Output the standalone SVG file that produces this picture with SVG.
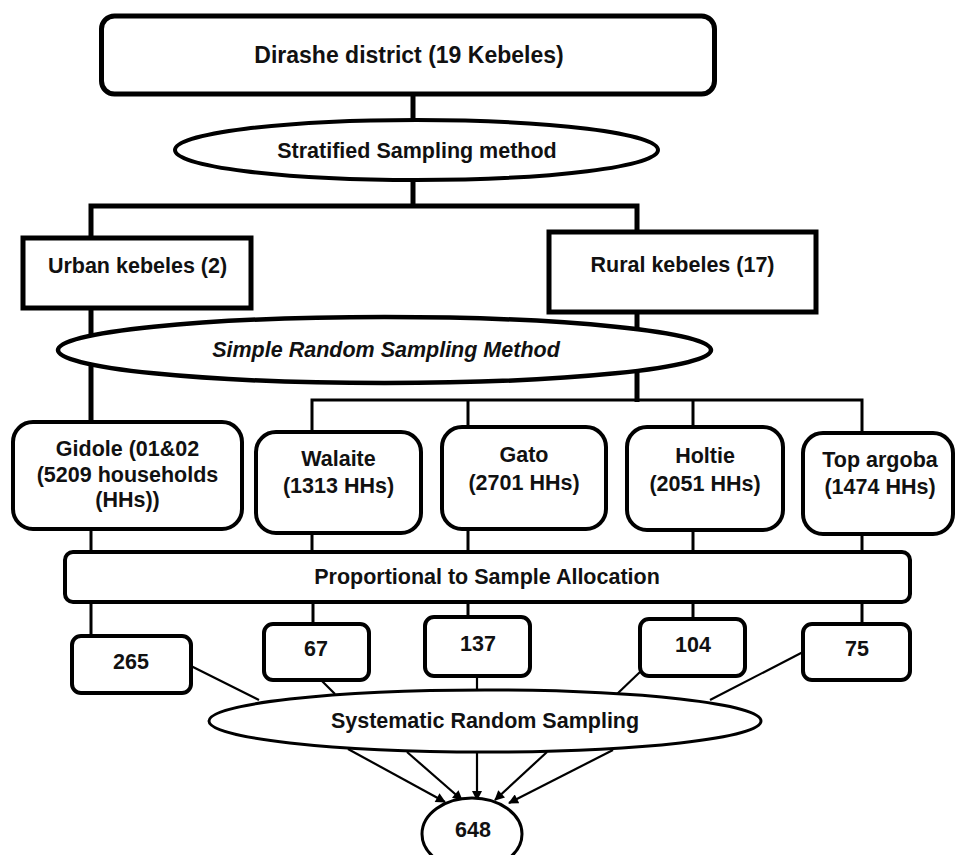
<svg xmlns="http://www.w3.org/2000/svg" width="956" height="855" viewBox="0 0 956 855">
<style>
text{font-family:"Liberation Sans",Arial,sans-serif;font-weight:bold;font-size:21.5px;fill:#111;text-anchor:middle}
.n{fill:#fff;stroke:#000;stroke-width:4}
.thick{stroke:#000;stroke-width:5;fill:none}
.mid{stroke:#000;stroke-width:3;fill:none}
.thin{stroke:#000;stroke-width:2.2;fill:none}
</style>
<defs>
<marker id="ah" viewBox="0 0 10 10" refX="9" refY="5" markerWidth="11" markerHeight="10" orient="auto" markerUnits="userSpaceOnUse">
<path d="M0,0 L10,5 L0,10 z" fill="#000"/>
</marker>
</defs>
<rect width="956" height="855" fill="#fff"/>
<g id="connectors">
<line class="thick" x1="413" y1="94" x2="413" y2="120"/>
<line class="thick" x1="413" y1="180" x2="413" y2="206"/>
<polyline class="thick" points="91,238 91,206 637,206 637,232"/>
<line class="thick" x1="91" y1="308" x2="91" y2="422"/>
<line class="thick" x1="637" y1="312" x2="637" y2="402"/>
<polyline class="mid" points="312,432 312,400 862,400 862,433"/>
<line class="mid" x1="468" y1="400" x2="468" y2="427"/>
<line class="mid" x1="693" y1="400" x2="693" y2="427"/>
<line class="mid" x1="91" y1="529" x2="91" y2="552"/>
<line class="mid" x1="312" y1="533" x2="312" y2="552"/>
<line class="mid" x1="468" y1="529" x2="468" y2="552"/>
<line class="mid" x1="693" y1="530" x2="693" y2="552"/>
<line class="mid" x1="862" y1="534" x2="862" y2="552"/>
<line class="mid" x1="91" y1="602" x2="91" y2="636"/>
<line class="mid" x1="313" y1="602" x2="313" y2="624"/>
<line class="mid" x1="468" y1="602" x2="468" y2="617"/>
<line class="mid" x1="693" y1="602" x2="693" y2="619"/>
<line class="mid" x1="862" y1="602" x2="862" y2="624"/>
<line class="thin" x1="191" y1="666" x2="259" y2="700"/>
<line class="thin" x1="321" y1="680" x2="335" y2="694"/>
<line class="thin" x1="477" y1="676" x2="477" y2="690"/>
<line class="thin" x1="640" y1="672" x2="617" y2="694"/>
<line class="thin" x1="803" y1="652" x2="710" y2="700"/>
<line class="thin" x1="348" y1="749" x2="445" y2="802" marker-end="url(#ah)"/>
<line class="thin" x1="407" y1="752" x2="462" y2="800" marker-end="url(#ah)"/>
<line class="thin" x1="477" y1="752" x2="477" y2="800" marker-end="url(#ah)"/>
<line class="thin" x1="547" y1="752" x2="495" y2="800" marker-end="url(#ah)"/>
<line class="thin" x1="613" y1="750" x2="509" y2="803" marker-end="url(#ah)"/>
</g>
<g id="district">
<rect x="101.5" y="16" width="613" height="78" rx="13" class="n" style="stroke-width:5"/>
<text x="409" y="63" style="font-size:23px">Dirashe district (19 Kebeles)</text>
</g>
<g id="stratified">
<ellipse cx="416.5" cy="150" rx="241.5" ry="30" class="n"/>
<text x="417" y="158">Stratified Sampling method</text>
</g>
<g id="urban">
<rect x="23" y="238" width="228" height="70" class="n" style="stroke-width:5"/>
<text x="137.5" y="273">Urban kebeles (2)</text>
</g>
<g id="rural">
<rect x="549" y="232" width="267" height="80" class="n" style="stroke-width:5"/>
<text x="682.5" y="272">Rural kebeles (17)</text>
</g>
<g id="simple">
<ellipse cx="384.5" cy="350" rx="326.5" ry="33" class="n" style="stroke-width:4.5"/>
<text x="386" y="357" style="font-style:italic">Simple Random Sampling Method</text>
</g>
<g id="gidole">
<rect x="13" y="422" width="229" height="107" rx="20" class="n"/>
<text x="127.5" y="456">Gidole (01&amp;02</text>
<text x="127.5" y="482">(5209 households</text>
<text x="127.5" y="507">(HHs))</text>
</g>
<g id="walaite">
<rect x="256" y="432" width="165" height="101" rx="20" class="n"/>
<text x="338.5" y="466">Walaite</text>
<text x="338.5" y="493">(1313 HHs)</text>
</g>
<g id="gato">
<rect x="442" y="427" width="164" height="102" rx="20" class="n"/>
<text x="524" y="462">Gato</text>
<text x="524" y="490">(2701 HHs)</text>
</g>
<g id="holtie">
<rect x="627" y="427" width="156" height="103" rx="20" class="n"/>
<text x="705" y="463">Holtie</text>
<text x="705" y="491">(2051 HHs)</text>
</g>
<g id="topargoba">
<rect x="803" y="433" width="150" height="101" rx="20" class="n"/>
<text x="880" y="467">Top argoba</text>
<text x="880" y="494">(1474 HHs)</text>
</g>
<g id="proportional">
<rect x="65" y="552" width="845" height="50" rx="8" class="n"/>
<text x="487" y="584">Proportional to Sample Allocation</text>
</g>
<g id="n265">
<rect x="72" y="636" width="119" height="57" rx="9" class="n"/>
<text x="131" y="669">265</text>
</g>
<g id="n67">
<rect x="264" y="624" width="105" height="56" rx="9" class="n"/>
<text x="316" y="656">67</text>
</g>
<g id="n137">
<rect x="425" y="617" width="105" height="59" rx="9" class="n"/>
<text x="478" y="651">137</text>
</g>
<g id="n104">
<rect x="640" y="619" width="105" height="57" rx="9" class="n"/>
<text x="693" y="652">104</text>
</g>
<g id="n75">
<rect x="803" y="624" width="107" height="56" rx="9" class="n"/>
<text x="857" y="656">75</text>
</g>
<g id="systematic">
<ellipse cx="485" cy="721" rx="276" ry="31" class="n" style="stroke-width:3"/>
<text x="485" y="728">Systematic Random Sampling</text>
</g>
<g id="total">
<ellipse cx="472" cy="834" rx="50" ry="36" class="n" style="stroke-width:3"/>
<text x="473" y="837">648</text>
</g>
</svg>
